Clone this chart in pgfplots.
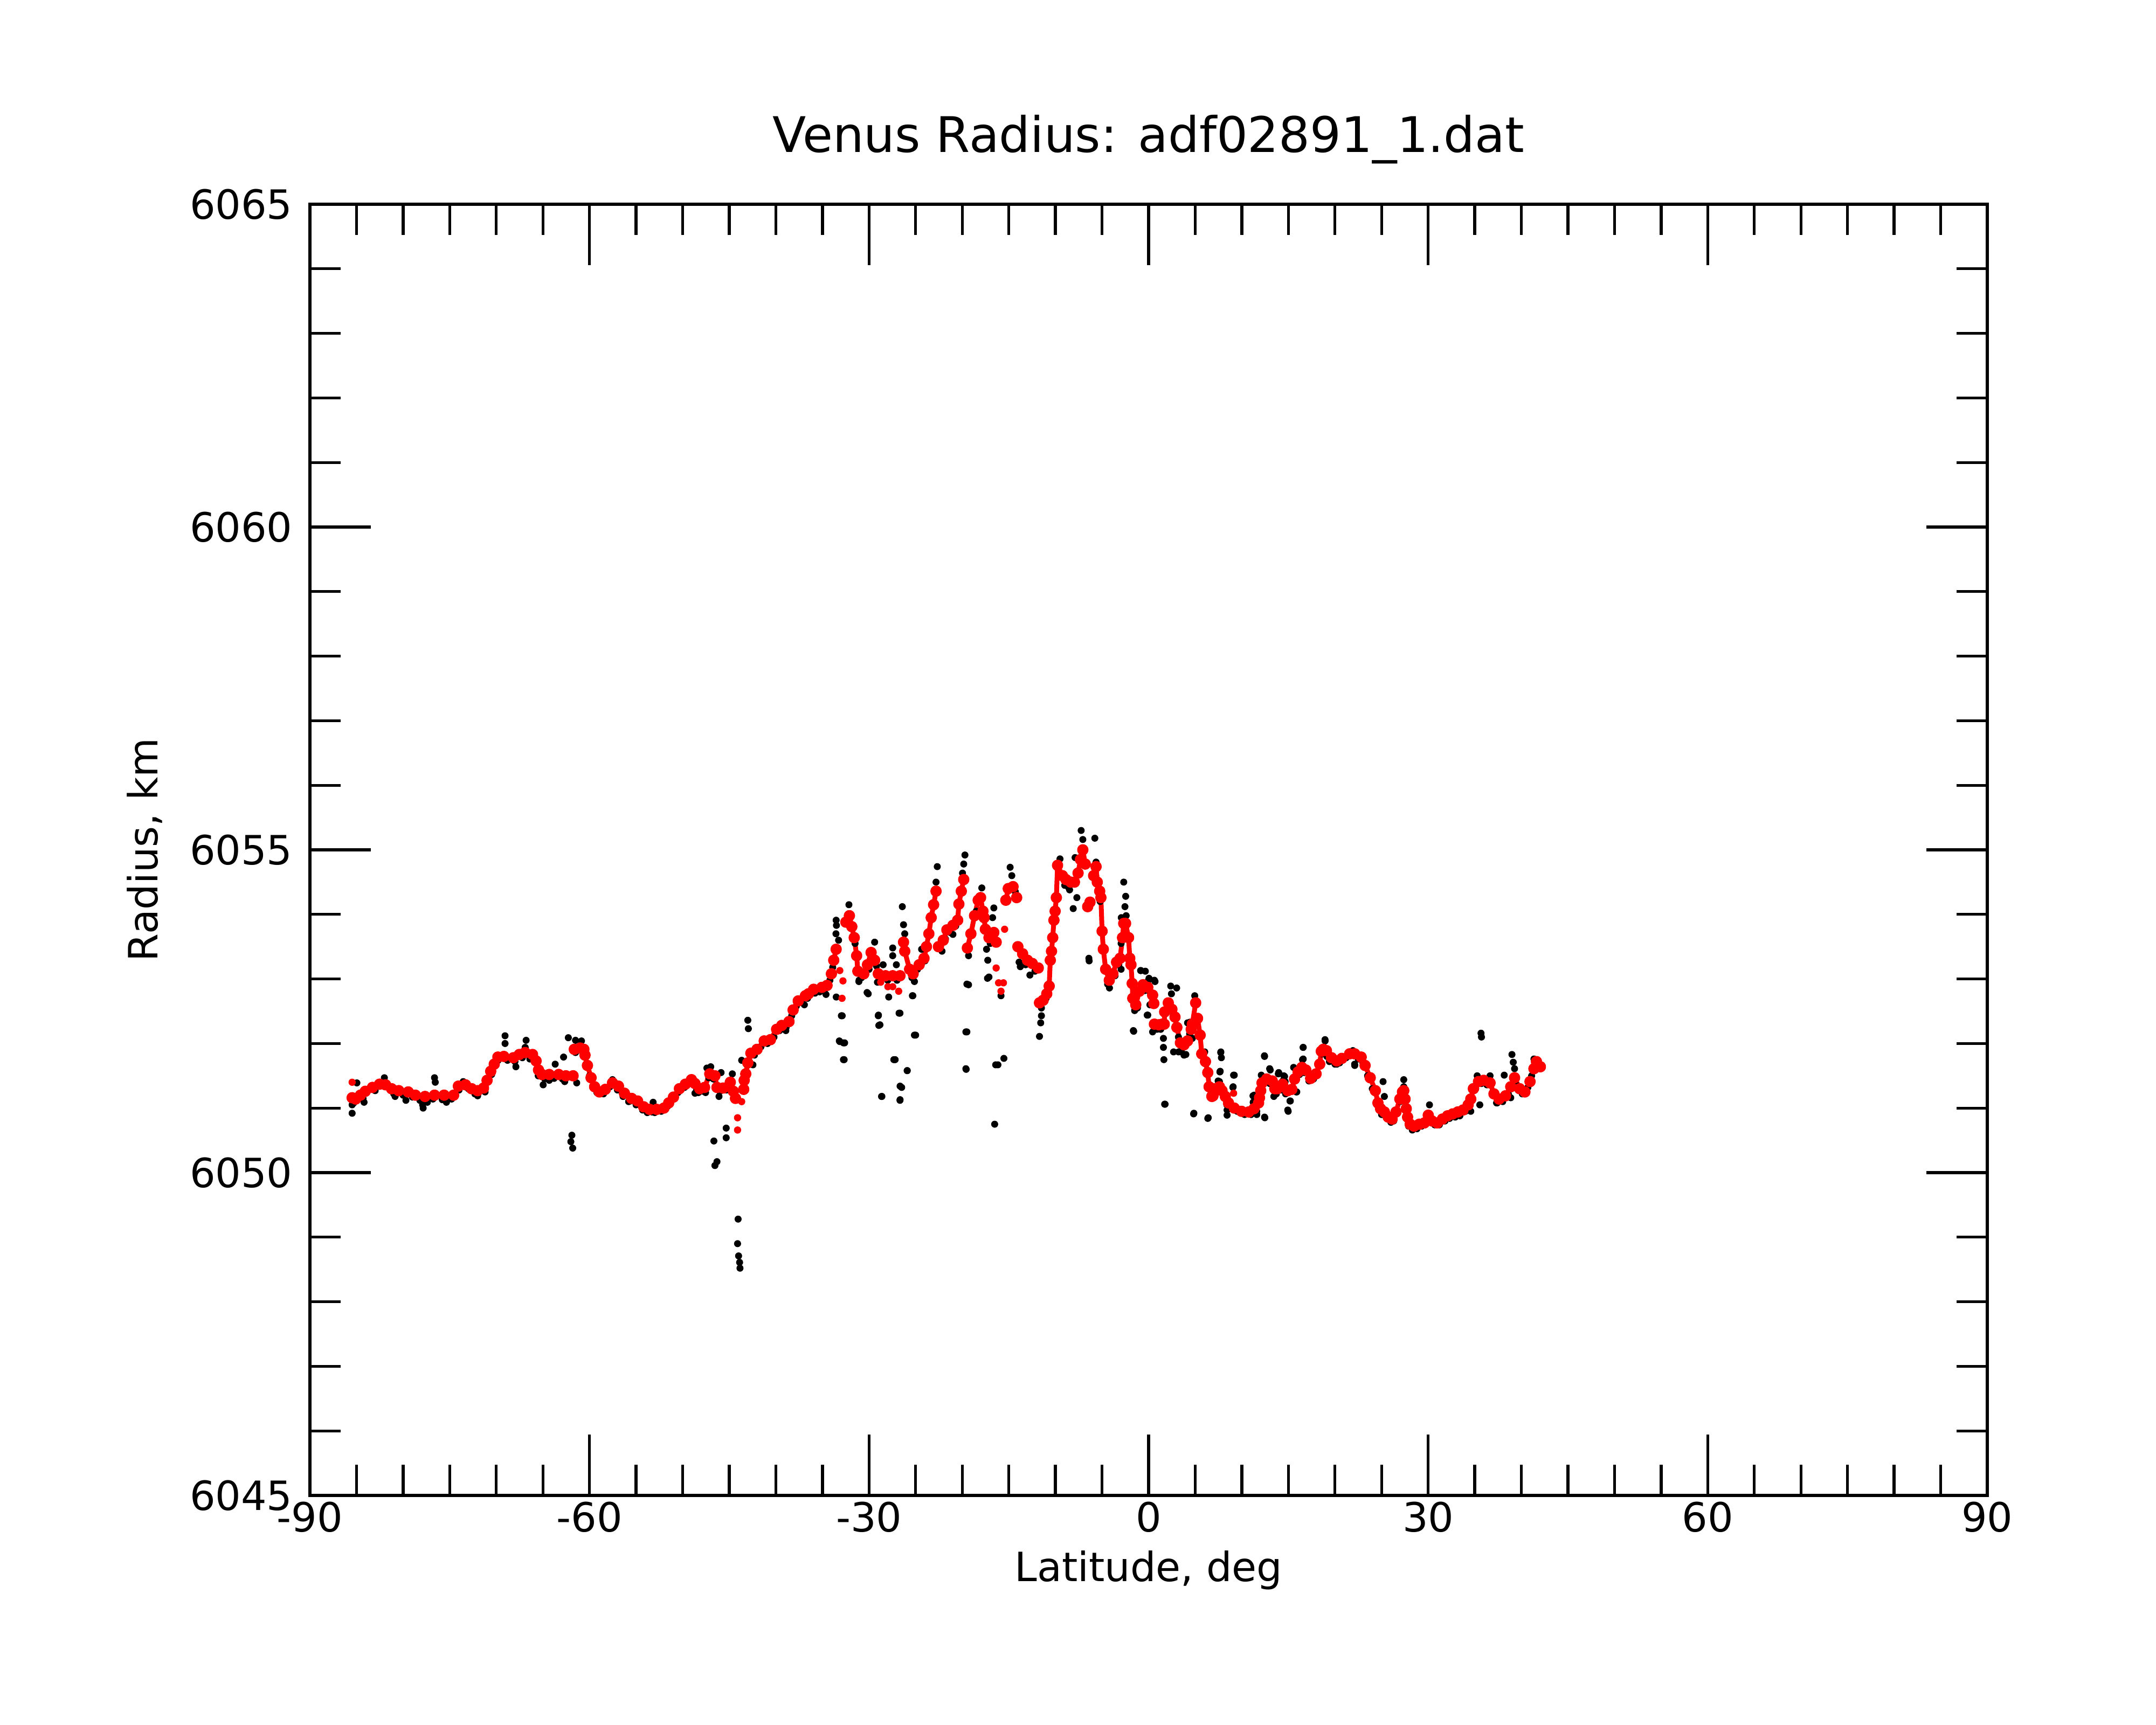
\documentclass[border=0pt]{standalone}
\usepackage{fontspec}
\setmainfont{DejaVu Sans}
\usepackage{pgfplots}
\pgfplotsset{compat=1.18}
\begin{document}
\begin{tikzpicture}
\useasboundingbox[fill=white] (-5.75cm,-4.25cm) rectangle (34.25cm,27.75cm);
\begin{axis}[
  at={(0,0)}, anchor=south west,
  scale only axis, width=31.12cm, height=23.96cm,
  xmin=-90, xmax=90, ymin=6045, ymax=6065,
  xtick={-90,-60,-30,0,30,60,90},
  xticklabels={-90,-60,-30,0,30,60,90},
  ytick={6045,6050,6055,6060,6065},
  yticklabels={6045,6050,6055,6060,6065},
  minor x tick num=5, minor y tick num=4,
  tick align=inside, xtick pos=both, ytick pos=both,
  major tick length=1.13cm, minor tick length=0.57cm,
  axis line style={line width=1.5pt},
  every tick/.style={black, line width=1.5pt},
  tick label style={font=\fontsize{21.3}{25}\selectfont},
  yticklabel style={xshift=-0.2cm},
  unbounded coords=jump,
  clip=false,
]
% black points: near-curve samples and outliers
\addplot[black, only marks, mark=*, mark size=0.058cm, mark options={draw=none}] table {
x y
-85.3 6051.08
-84.3 6051.15
-83.0 6051.27
-82.0 6051.40
-81.0 6051.22
-80.0 6051.20
-79.0 6051.17
-78.2 6051.12
-76.8 6051.14
-75.8 6051.13
-74.8 6051.14
-74.0 6051.28
-73.0 6051.30
-72.3 6051.22
-71.2 6051.25
-70.5 6051.52
-69.8 6051.74
-68.8 6051.74
-68.0 6051.72
-67.2 6051.78
-66.4 6051.76
-65.5 6051.50
-64.8 6051.45
-63.8 6051.46
-62.9 6051.45
-61.5 6051.86
-60.8 6051.88
-60.0 6051.50
-59.2 6051.24
-58.5 6051.22
-57.8 6051.33
-57.0 6051.28
-56.4 6051.18
-55.8 6051.10
-55.0 6051.05
-54.3 6050.97
-53.8 6050.93
-53.0 6050.93
-52.3 6050.95
-51.6 6051.03
-51.0 6051.16
-50.5 6051.24
-49.8 6051.32
-49.2 6051.38
-48.5 6051.30
-47.8 6051.26
-47.2 6051.47
-46.7 6051.45
-46.0 6051.26
-45.3 6051.28
-44.8 6051.33
-42.9 6051.72
-42.3 6051.82
-41.6 6051.95
-40.9 6052.00
-40.2 6052.10
-39.6 6052.20
-38.9 6052.25
-38.3 6052.43
-37.8 6052.58
-37.2 6052.66
-36.6 6052.70
-35.8 6052.78
-35.3 6052.80
-34.8 6052.82
-34.2 6052.98
-33.9 6053.18
-31.5 6053.55
-30.8 6053.02
-30.0 6053.15
-29.2 6053.20
-28.0 6052.98
-27.0 6052.98
-25.4 6053.02
-24.8 6053.15
-24.0 6053.28
-21.8 6053.62
-21.3 6053.72
-20.7 6053.82
-18.9 6053.72
-18.5 6054.05
-17.0 6053.55
-14.3 6054.35
-13.2 6053.22
-12.2 6053.12
-11.5 6052.55
-11.0 6052.70
-9.0 6054.45
-8.6 6054.42
-5.2 6054.20
-4.4 6052.92
-3.6 6053.05
-3.2 6053.22
-1.2 6052.55
-0.4 6052.82
0.2 6052.78
0.9 6052.22
1.3 6052.22
2.3 6052.55
3.2 6052.10
3.6 6051.93
4.4 6052.15
6.6 6051.20
7.2 6051.24
8.0 6051.20
8.4 6051.05
9.5 6050.95
10.3 6050.90
11.0 6050.90
11.6 6050.95
12.4 6051.38
13.0 6051.38
13.7 6051.22
14.2 6051.28
14.7 6051.22
15.5 6051.28
16.2 6051.52
16.7 6051.55
17.2 6051.42
17.7 6051.45
18.6 6051.84
19.4 6051.72
20.0 6051.68
20.5 6051.70
21.2 6051.78
22.5 6051.76
23.0 6051.70
23.5 6051.50
24.0 6051.30
24.5 6051.05
25.0 6050.90
25.5 6050.85
26.0 6050.78
26.3 6050.80
27.0 6051.10
27.9 6050.72
28.3 6050.66
28.8 6050.68
29.3 6050.72
29.8 6050.80
30.2 6050.82
30.7 6050.74
31.2 6050.74
31.8 6050.80
32.3 6050.84
32.9 6050.86
33.4 6050.88
34.0 6050.95
35.1 6051.30
35.7 6051.38
36.3 6051.36
36.9 6051.22
37.4 6051.08
38.0 6051.10
38.6 6051.22
39.5 6051.35
40.1 6051.22
40.7 6051.32
41.1 6051.50
41.8 6051.62
-85.47 6051.05
-85.47 6050.92
-84.96 6051.39
-84.19 6051.09
-82.01 6051.47
-80.86 6051.18
-79.70 6051.12
-77.91 6051.05
-77.85 6051.00
-77.40 6051.09
-76.63 6051.47
-76.55 6051.40
-75.35 6051.09
-73.55 6051.41
-72.00 6051.19
-69.06 6052.12
-69.06 6052.00
-67.90 6051.64
-66.80 6052.05
-66.90 6051.94
-64.97 6051.36
-64.32 6051.43
-63.68 6051.68
-62.78 6051.79
-62.66 6051.41
-62.27 6052.09
-61.50 6052.05
-60.86 6052.04
-61.89 6050.58
-62.00 6050.48
-61.80 6050.38
-61.37 6051.39
-59.20 6051.26
-57.53 6051.44
-55.60 6051.11
-53.30 6050.94
-53.17 6051.09
-48.68 6051.23
-47.40 6051.62
-43.01 6052.36
-42.95 6052.23
-43.67 6051.74
-42.46 6051.67
-46.99 6051.64
-45.88 6051.55
-44.67 6051.53
-48.31 6051.24
-47.54 6051.24
-46.10 6051.18
-45.33 6050.69
-45.33 6050.54
-46.65 6050.49
-46.54 6050.11
-46.32 6050.17
-44.05 6049.28
-44.11 6048.90
-44.00 6048.71
-43.89 6048.61
-43.85 6048.52
-38.93 6052.20
-36.94 6052.60
-34.62 6052.76
-33.52 6052.72
-32.97 6052.43
-33.19 6052.04
-32.75 6052.01
-32.75 6051.75
-31.09 6052.96
-30.21 6052.79
-29.10 6052.95
-28.99 6052.44
-28.95 6052.28
-28.66 6051.18
-27.89 6052.72
-27.34 6051.75
-26.78 6052.47
-26.67 6051.34
-26.67 6051.13
-25.90 6051.58
-25.35 6052.74
-25.13 6052.13
-25.13 6052.96
-19.50 6052.92
-19.61 6052.18
-19.61 6051.61
-17.29 6053.01
-16.41 6051.67
-16.52 6050.75
-33.53 6053.91
-33.50 6053.83
-33.55 6053.70
-33.27 6053.60
-32.88 6052.43
-33.14 6052.03
-32.62 6052.01
-32.67 6051.75
-32.16 6054.15
-31.07 6052.98
-30.09 6052.77
-29.40 6053.57
-29.01 6052.43
-28.83 6052.29
-28.62 6051.18
-28.49 6053.22
-27.46 6053.48
-27.46 6053.36
-27.20 6051.75
-27.07 6053.22
-26.68 6051.12
-26.50 6051.32
-25.91 6051.58
-26.68 6052.47
-26.43 6054.12
-26.30 6053.84
-26.17 6053.70
-25.30 6052.74
-25.00 6052.13
-24.36 6053.46
-22.68 6054.74
-22.81 6054.50
-22.17 6053.43
-21.00 6053.69
-19.71 6054.92
-19.84 6054.78
-19.97 6054.64
-19.50 6052.18
-19.58 6051.60
-19.32 6053.36
-19.32 6052.91
-17.90 6054.41
-17.39 6053.46
-17.26 6053.29
-17.13 6053.03
-16.74 6053.95
-16.61 6054.10
-16.17 6051.67
-15.53 6051.77
-15.84 6052.74
-14.86 6054.73
-14.68 6054.60
-13.90 6053.26
-13.77 6053.19
-12.74 6053.06
-11.71 6052.11
-11.58 6052.32
-11.50 6052.43
-9.51 6054.86
-8.48 6054.38
-7.70 6054.26
-8.09 6054.09
-7.24 6055.30
-7.06 6055.16
-7.89 6054.88
-5.77 6055.18
-5.64 6054.81
-6.41 6053.32
-6.38 6053.28
-2.67 6054.50
-2.46 6054.28
-2.54 6054.12
-2.41 6053.98
-2.93 6053.95
-1.64 6052.20
-0.86 6053.13
-0.09 6052.96
0.69 6052.96
-0.09 6052.44
0.43 6052.18
1.59 6052.08
1.59 6051.94
1.64 6051.75
2.68 6051.87
1.72 6051.06
2.37 6052.89
3.01 6052.86
3.53 6051.87
-2.95 6053.55
-3.24 6053.26
-2.95 6053.15
-4.20 6052.86
-0.83 6053.13
-0.35 6053.12
0.04 6053.01
0.62 6052.98
-1.50 6052.51
-1.60 6052.19
-0.15 6052.44
0.14 6052.60
1.77 6051.06
2.45 6052.77
3.22 6051.87
3.80 6051.82
4.18 6052.32
4.66 6052.08
4.95 6052.74
4.86 6050.92
6.02 6051.87
6.21 6051.73
6.40 6050.85
7.46 6051.42
7.65 6051.56
7.75 6051.87
7.81 6051.78
8.42 6050.97
8.42 6050.89
9.04 6051.32
9.19 6051.51
11.32 6051.20
11.22 6051.09
11.61 6050.90
12.43 6051.81
12.47 6050.85
12.09 6051.51
13.05 6051.59
13.92 6051.53
14.40 6051.42
14.59 6051.49
13.44 6051.18
14.98 6050.95
15.17 6051.11
15.56 6051.63
15.85 6051.25
16.58 6051.94
16.52 6051.75
18.93 6052.06
19.13 6051.80
20.19 6051.68
21.92 6051.89
22.11 6051.68
4.42 6052.33
4.69 6052.08
4.00 6051.83
4.83 6050.91
6.35 6050.84
7.74 6051.86
7.68 6051.57
7.60 6051.41
9.12 6051.51
9.07 6051.33
12.44 6051.80
12.44 6050.86
11.20 6051.19
11.33 6051.11
12.99 6051.61
13.96 6051.55
14.51 6051.50
14.65 6051.41
15.90 6051.25
15.21 6051.11
14.93 6050.97
16.59 6051.94
16.59 6051.76
18.94 6052.04
22.12 6051.66
25.16 6051.41
25.30 6051.18
25.16 6050.94
27.38 6051.44
27.38 6051.33
30.14 6051.05
35.54 6051.05
34.57 6050.95
35.26 6051.50
36.64 6051.50
35.67 6052.16
35.72 6052.10
38.99 6051.83
39.13 6051.71
39.27 6051.61
38.16 6051.51
38.86 6051.16
37.34 6051.08
41.35 6051.76
};
% red smoothed radius (connected segments)
\addplot[red, line width=0.09cm, line join=round, line cap=round, mark=*, mark size=0.06cm, mark options={draw=none, fill=red}] table {
x y
-85.47 6051.16
-85.09 6051.14
-84.58 6051.20
-84.06 6051.26
-83.29 6051.32
-82.53 6051.37
-81.88 6051.36
-81.24 6051.30
-80.47 6051.27
-79.45 6051.25
-78.68 6051.20
-77.65 6051.18
-76.63 6051.20
-75.60 6051.20
-74.58 6051.20
-74.07 6051.34
-73.30 6051.36
-72.65 6051.30
-72.01 6051.27
-71.37 6051.31
-70.99 6051.43
-70.60 6051.57
-70.22 6051.68
-69.83 6051.79
-69.19 6051.80
-68.17 6051.78
-67.53 6051.83
-66.91 6051.86
-66.11 6051.83
-65.73 6051.73
-65.47 6051.59
-65.09 6051.52
-64.32 6051.52
-63.30 6051.52
-62.53 6051.50
-61.76 6051.50
nan nan
-61.63 6051.91
-60.99 6051.93
-60.60 6051.91
-60.48 6051.82
-60.22 6051.66
-59.83 6051.47
-59.45 6051.33
-58.94 6051.25
-58.30 6051.29
-57.53 6051.39
-56.89 6051.34
-56.25 6051.23
-55.48 6051.15
-54.84 6051.11
-54.19 6051.02
-53.55 6050.98
-52.78 6050.98
-52.01 6051.00
-51.50 6051.08
-50.99 6051.17
-50.35 6051.30
-49.71 6051.37
-49.06 6051.44
-48.68 6051.38
-48.17 6051.30
-47.65 6051.32
-47.09 6051.53
-46.54 6051.50
-46.32 6051.32
-45.66 6051.31
-44.89 6051.40
-44.56 6051.26
-44.33 6051.15
nan nan
-43.45 6051.29
-43.40 6051.43
-43.23 6051.53
-43.01 6051.70
-42.68 6051.85
-42.02 6051.91
-41.25 6052.04
-40.58 6052.06
-39.92 6052.22
-39.37 6052.28
-38.59 6052.34
-38.15 6052.52
-37.60 6052.66
-36.83 6052.74
-36.50 6052.77
-35.95 6052.84
-35.06 6052.87
-34.51 6052.90
-34.04 6053.08
-33.79 6053.29
-33.53 6053.46
nan nan
-32.49 6053.88
-32.11 6053.98
-31.85 6053.81
-31.59 6053.64
-31.33 6053.36
-31.20 6053.12
-30.56 6053.08
-30.17 6053.22
-29.78 6053.41
-29.40 6053.29
-29.01 6053.08
-28.23 6053.05
-27.46 6053.05
-26.68 6053.05
nan nan
-26.30 6053.57
-26.17 6053.43
-25.65 6053.15
-25.27 6053.08
-24.62 6053.22
-24.10 6053.32
-23.84 6053.50
-23.58 6053.70
-23.33 6053.95
-23.07 6054.15
-22.81 6054.36
nan nan
-22.55 6053.50
-22.04 6053.60
-21.65 6053.76
-21.00 6053.83
-20.49 6053.91
-20.36 6054.16
-20.10 6054.36
-19.84 6054.54
nan nan
-19.45 6053.48
-19.07 6053.70
-18.68 6053.98
-18.29 6054.22
-18.03 6054.26
-17.78 6054.05
-17.65 6053.95
-17.52 6053.77
-17.13 6053.64
-16.61 6053.72
-16.36 6053.57
nan nan
-15.32 6054.22
-15.06 6054.40
-14.55 6054.43
-14.16 6054.26
nan nan
-14.03 6053.50
-13.52 6053.39
-13.00 6053.29
-12.48 6053.24
-11.84 6053.17
nan nan
-11.71 6052.63
-11.32 6052.67
-10.93 6052.77
-10.67 6052.89
-10.55 6053.29
-10.42 6053.43
-10.29 6053.64
-10.16 6053.91
-10.03 6054.05
-9.90 6054.26
-9.77 6054.76
-9.25 6054.60
-8.87 6054.54
-8.35 6054.50
-7.96 6054.50
-7.57 6054.64
-7.31 6054.85
-7.06 6055.00
-6.80 6054.78
nan nan
-6.54 6054.12
-6.29 6054.19
nan nan
-5.90 6054.60
-5.64 6054.74
-5.51 6054.50
-5.25 6054.36
-5.12 6054.26
-4.99 6053.74
-4.86 6053.46
-4.61 6053.15
-4.22 6052.98
-3.83 6053.08
-3.44 6053.26
-3.06 6053.32
-2.80 6053.64
-2.67 6053.86
-2.47 6053.86
-2.15 6053.64
-2.02 6053.32
-1.89 6053.22
-1.76 6052.93
-1.70 6052.70
-1.38 6052.60
-0.99 6052.81
-0.60 6052.91
-0.09 6052.87
0.43 6052.75
0.56 6052.62
nan nan
0.62 6052.30
1.10 6052.29
1.46 6052.30
1.68 6052.30
1.72 6052.49
2.11 6052.63
2.50 6052.53
2.83 6052.41
3.03 6052.25
3.41 6052.01
3.80 6051.98
4.18 6052.04
4.57 6052.22
4.69 6052.30
5.05 6052.63
nan nan
5.25 6052.39
5.53 6052.13
5.70 6051.84
6.10 6051.72
6.35 6051.55
6.49 6051.33
6.79 6051.18
6.91 6051.19
7.08 6051.30
7.37 6051.30
7.60 6051.33
7.88 6051.27
8.23 6051.18
8.57 6051.08
nan nan
9.19 6051.00
9.97 6050.95
10.74 6050.94
11.31 6050.99
11.80 6051.08
11.90 6051.16
12.03 6051.27
12.17 6051.39
12.67 6051.45
13.27 6051.42
13.54 6051.30
13.82 6051.30
14.38 6051.37
14.93 6051.27
15.37 6051.29
15.66 6051.45
16.04 6051.56
16.45 6051.63
16.87 6051.59
17.39 6051.46
17.97 6051.53
18.36 6051.68
18.53 6051.88
18.74 6051.91
19.08 6051.89
19.63 6051.78
20.19 6051.73
20.74 6051.77
21.57 6051.84
22.12 6051.84
22.81 6051.79
23.23 6051.66
23.78 6051.47
24.33 6051.27
24.61 6051.08
24.89 6050.99
25.30 6050.94
25.72 6050.86
26.13 6050.83
26.55 6050.94
26.96 6051.14
27.24 6051.25
27.38 6051.27
27.52 6051.14
27.65 6050.99
27.79 6050.86
28.07 6050.75
28.48 6050.72
29.04 6050.75
29.59 6050.77
30.01 6050.89
30.42 6050.80
30.97 6050.77
31.53 6050.83
32.08 6050.88
32.63 6050.91
33.18 6050.94
33.74 6050.97
34.29 6051.05
34.57 6051.14
34.85 6051.30
35.40 6051.41
35.95 6051.43
36.64 6051.39
37.06 6051.22
37.61 6051.14
38.30 6051.19
38.86 6051.33
39.27 6051.47
39.82 6051.30
40.38 6051.25
40.93 6051.41
41.35 6051.61
41.62 6051.72
42.04 6051.64
};
% red isolated points
\addplot[red, only marks, mark=*, mark size=0.06cm, mark options={draw=none, fill=red}] table {
x y
-85.47 6051.40
-44.11 6050.85
-44.11 6050.66
-43.67 6051.10
-33.14 6053.13
-32.80 6052.97
-32.90 6052.70
-28.75 6052.95
-27.98 6052.88
-27.46 6052.88
-26.82 6052.81
-16.36 6053.17
-16.10 6052.94
-15.84 6052.81
-15.58 6052.94
-15.45 6053.77
9.12 6051.23
};
\end{axis}
\node[anchor=base, font=\fontsize{25.9}{30}\selectfont] at (15.56cm,24.92cm) {Venus Radius: adf02891\_1.dat};
\node[anchor=base, font=\fontsize{21.3}{25}\selectfont] at (15.56cm,-1.59cm) {Latitude, deg};
\node[rotate=90, anchor=base, font=\fontsize{21.3}{25}\selectfont] at (-2.82cm,11.98cm) {Radius, km};
\end{tikzpicture}
\end{document}
